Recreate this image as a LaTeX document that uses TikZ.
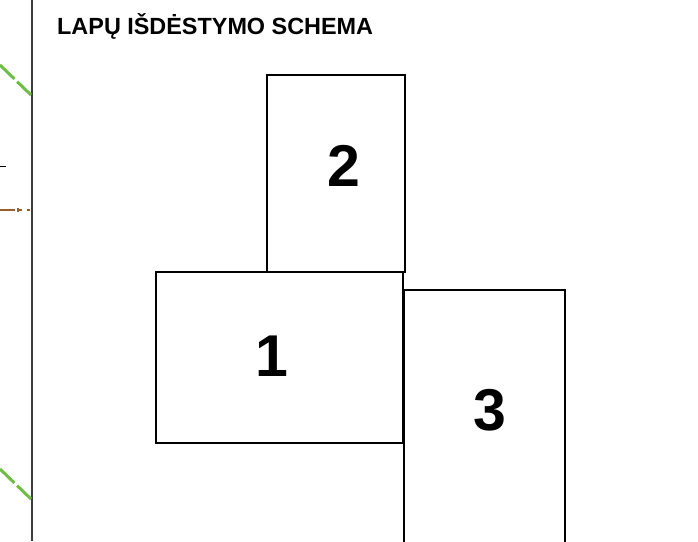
\documentclass[tikz,border=0pt]{standalone}
\usepackage{fontspec}
\setmainfont{Liberation Sans}
\usetikzlibrary{positioning}
\definecolor{edgegreen}{RGB}{110,190,70}
\definecolor{roadbrown}{RGB}{150,95,45}
\definecolor{framegray}{RGB}{60,60,60}

\begin{document}
\begin{tikzpicture}[x=1pt, y=-1pt,
    sheet/.style={rectangle, draw, line width=1.8pt, inner sep=0pt, outer sep=0pt},
    sheetno/.style={font=\bfseries\fontsize{59}{59}\selectfont},
    title/.style={font=\bfseries\fontsize{23.4}{23.4}\selectfont, anchor=base west, inner sep=0pt}
]
    \useasboundingbox (0,0) rectangle (698,541);
    \clip (0,0) rectangle (698,541);

    % left margin of the map
    \draw[framegray, line width=2.4pt] (32,0) -- (32,541);
    \draw[edgegreen, line width=3pt, dash pattern=on 20pt off 4pt] (0,65) -- (31,95);
    \draw[edgegreen, line width=3pt, dash pattern=on 20pt off 4pt] (0,469) -- (31,499);
    \draw[black, line width=1pt] (0,166) -- (6,166);
    \draw[roadbrown, line width=1.6pt] (0,210) -- (15,210) (18,210) -- (22,210) (18,208) -- (18,212) (27,210) -- (30,210);

    \node[title] (heading) at (57,34) {LAPŲ IŠDĖSTYMO SCHEMA};

    % sheets
    \node[sheet, minimum width=138pt, minimum height=197pt] (sheet2) at (336,173.5) {};
    \node[sheet, line width=2.4pt, minimum width=247pt, minimum height=171pt] (sheet1) at (279.5,357.5) {};
    \node[sheet, minimum width=161pt, minimum height=270pt] (sheet3) at (484.5,425) {};

    \node[sheetno] (no2) at (344,166) {2};
    \node[sheetno] (no1) at (272,356) {1};
    \node[sheetno] (no3) at (490,410) {3};
\end{tikzpicture}
\end{document}
